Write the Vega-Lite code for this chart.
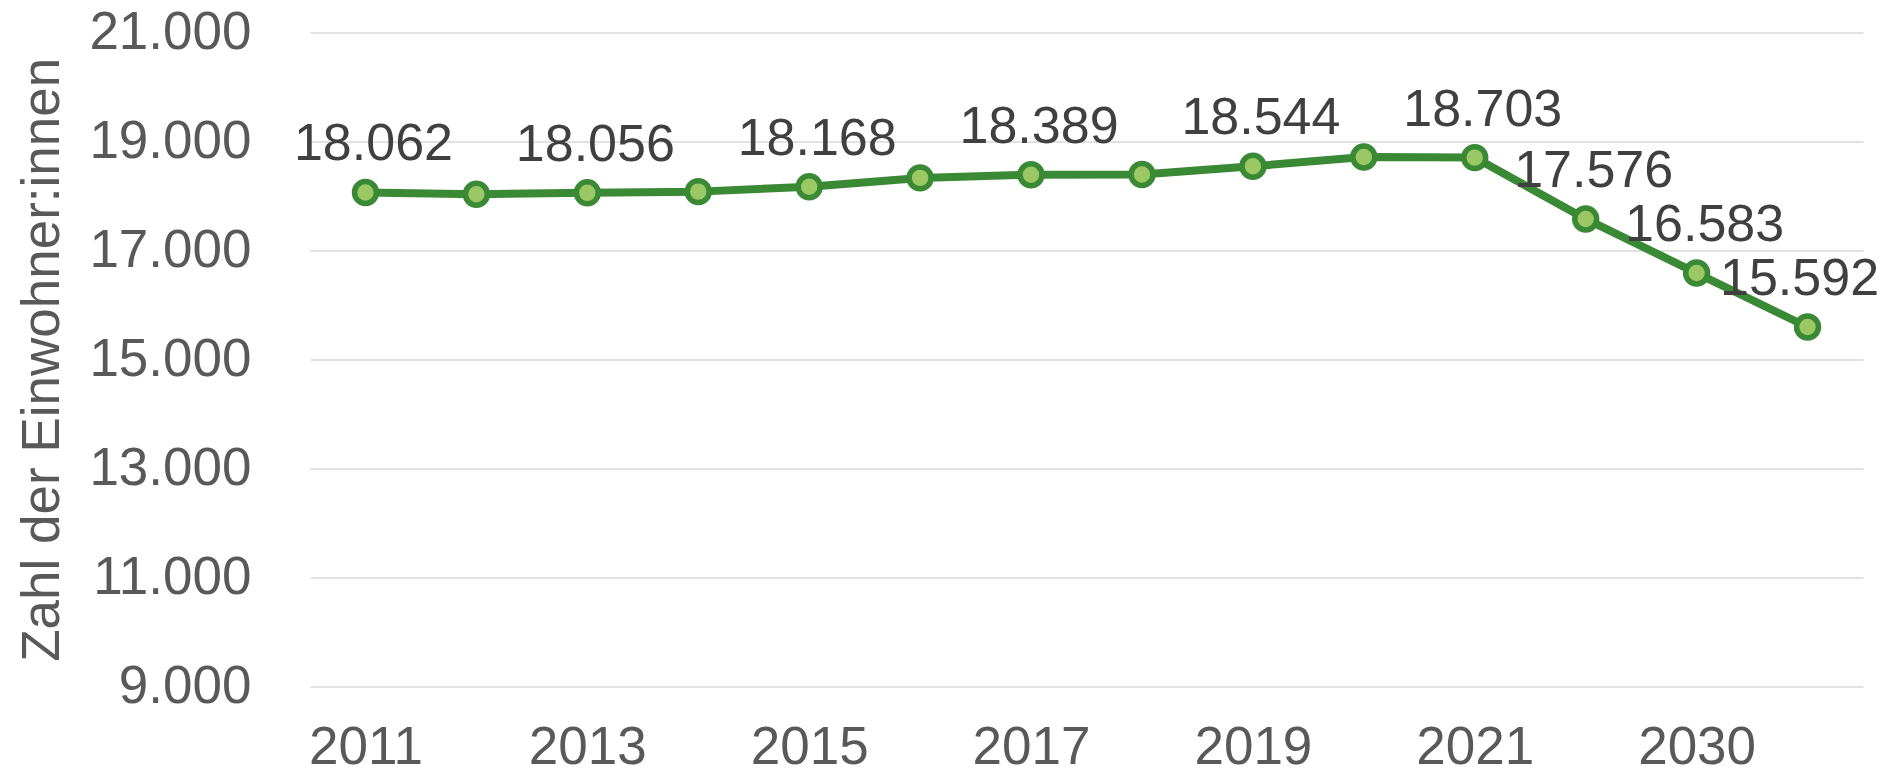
{
  "$schema": "https://vega.github.io/schema/vega-lite/v6.json",
  "autosize": {"type": "none"},
  "width": 1553,
  "height": 653.5,
  "padding": {"left": 310, "top": 32.5, "right": 23, "bottom": 88},
  "background": "white",
  "config": {
    "locale": {"number": {"decimal": ",", "thousands": ".", "grouping": [3], "currency": ["", " €"]}},
    "view": {"stroke": null},
    "font": "Liberation Sans"
  },
  "data": {
    "values": [
      {"Jahr": "2011", "Einwohner": 18062},
      {"Jahr": "2012", "Einwohner": 18030},
      {"Jahr": "2013", "Einwohner": 18056},
      {"Jahr": "2014", "Einwohner": 18078},
      {"Jahr": "2015", "Einwohner": 18168},
      {"Jahr": "2016", "Einwohner": 18330},
      {"Jahr": "2017", "Einwohner": 18389},
      {"Jahr": "2018", "Einwohner": 18392},
      {"Jahr": "2019", "Einwohner": 18544},
      {"Jahr": "2020", "Einwohner": 18715},
      {"Jahr": "2021", "Einwohner": 18703},
      {"Jahr": "2025", "Einwohner": 17576},
      {"Jahr": "2030", "Einwohner": 16583},
      {"Jahr": "2035", "Einwohner": 15592}
    ]
  },
  "encoding": {
    "x": {
      "field": "Jahr", "type": "ordinal", "sort": null,
      "scale": {"type": "point", "padding": 0.5},
      "axis": {
        "title": null, "domain": false, "ticks": false, "grid": false,
        "values": ["2011", "2013", "2015", "2017", "2019", "2021", "2030"],
        "labelAngle": 0, "labelFont": "Liberation Sans", "labelFontSize": 53,
        "labelColor": "#595959", "labelBaseline": "alphabetic", "labelPadding": 77
      }
    },
    "y": {
      "field": "Einwohner", "type": "quantitative",
      "scale": {"domain": [9000, 21000], "nice": false, "zero": false},
      "axis": {
        "values": [9000, 11000, 13000, 15000, 17000, 19000, 21000],
        "format": ",.0f",
        "domain": false, "ticks": false, "grid": true,
        "gridColor": "#d9d9d9", "gridWidth": 1.5,
        "labelFont": "Liberation Sans", "labelFontSize": 53, "labelColor": "#595959",
        "labelPadding": 59,
        "title": "Zahl der Einwohner:innen",
        "titleFont": "Liberation Sans", "titleFontSize": 53, "titleFontWeight": "normal",
        "titleColor": "#595959", "titleAngle": -90, "titleBaseline": "alphabetic",
        "titleAlign": "center", "titleX": -252, "titleY": 326.75
      }
    }
  },
  "layer": [
    {
      "mark": {"type": "line", "color": "#3a8a35", "strokeWidth": 8, "strokeJoin": "round"}
    },
    {
      "mark": {"type": "point", "shape": "circle", "filled": true, "fill": "#9bc765", "stroke": "#3a8a35", "strokeWidth": 5.5, "size": 480, "opacity": 1}
    },
    {
      "transform": [{"filter": {"field": "Jahr", "oneOf": ["2011", "2013", "2015", "2017", "2019", "2021", "2025", "2030"]}}],
      "mark": {"type": "text", "font": "Liberation Sans", "fontSize": 52, "color": "#404040", "baseline": "alphabetic", "align": "center", "dx": 8, "dy": -32},
      "encoding": {"text": {"field": "Einwohner", "type": "quantitative", "format": ",.0f"}}
    },
    {
      "transform": [{"filter": {"field": "Jahr", "equal": "2035"}}],
      "mark": {"type": "text", "font": "Liberation Sans", "fontSize": 52, "color": "#404040", "baseline": "alphabetic", "align": "center", "dx": -8, "dy": -32},
      "encoding": {"text": {"field": "Einwohner", "type": "quantitative", "format": ",.0f"}}
    }
  ]
}
